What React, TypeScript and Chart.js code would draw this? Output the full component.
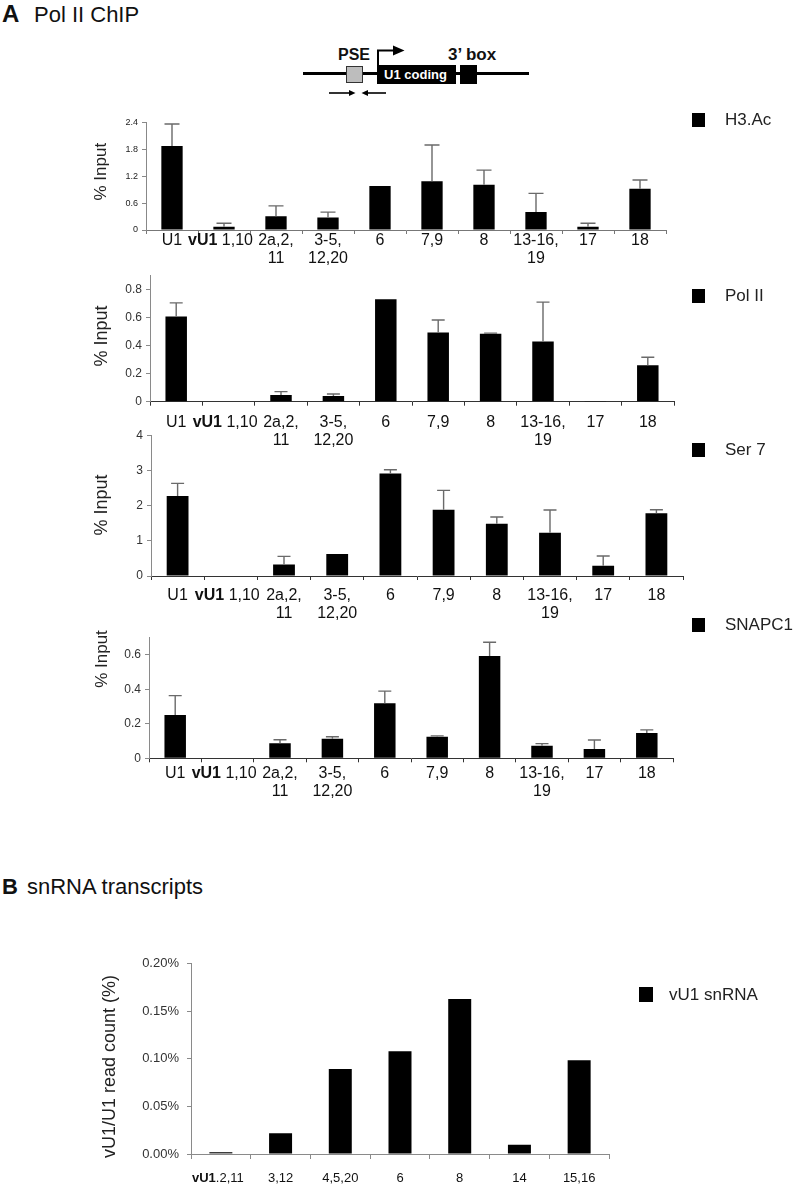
import React, { useEffect, useRef } from 'react';
import { Chart, registerables } from 'chart.js';

Chart.register(...registerables);

const FONT = '"Liberation Sans", Arial, Helvetica, sans-serif';
const PAGE_W = 794;

// ---------- data ----------
const CHIP_CATEGORIES: string[][] = [
  ['U1'], ['vU1 1,10'], ['2a,2,', '11'], ['3-5,', '12,20'], ['6'], ['7,9'], ['8'], ['13-16,', '19'], ['17'], ['18'],
];
const BOLD_PREFIX = 'vU1';

const H3AC_VALUES = [1.88, 0.07, 0.31, 0.28, 0.985, 1.09, 1.01, 0.4, 0.07, 0.92];
const H3AC_ERRORS = [0.49, 0.08, 0.23, 0.12, 0, 0.81, 0.33, 0.42, 0.08, 0.2];

const POL2_VALUES = [0.608, 0, 0.048, 0.041, 0.731, 0.495, 0.486, 0.43, 0.005, 0.26];
const POL2_ERRORS = [0.098, 0, 0.024, 0.014, 0, 0.089, 0.004, 0.281, 0, 0.057];

const SER7_VALUES = [2.28, 0, 0.33, 0.63, 2.92, 1.89, 1.49, 1.23, 0.29, 1.79];
const SER7_ERRORS = [0.36, 0, 0.23, 0, 0.11, 0.55, 0.19, 0.65, 0.28, 0.1];

const SNAPC1_VALUES = [0.252, 0, 0.087, 0.114, 0.32, 0.125, 0.594, 0.073, 0.054, 0.147];
const SNAPC1_ERRORS = [0.112, 0, 0.021, 0.011, 0.07, 0.005, 0.08, 0.012, 0.052, 0.018];

const SNRNA_CATEGORIES = ['vU1.2,11', '3,12', '4,5,20', '6', '8', '14', '15,16'];
const SNRNA_VALUES = [0.002, 0.0217, 0.0893, 0.108, 0.163, 0.0098, 0.0984];

// axis ranges [max, step]
const H3AC_AXIS = [2.4, 0.6];
const POL2_AXIS = [0.9, 0.2];
const SER7_AXIS = [4, 1];
const SNAPC1_AXIS = [0.7, 0.2];
const SNRNA_AXIS = [0.2, 0.05];

type Spec = {
  top: number; height: number;
  areaTop: number; areaBottom: number; areaLeft: number; areaRight: number;
  labels: (string | string[])[];
  values: number[]; errors?: number[]; series: string;
  axis: number[]; yFmt?: (v: number) => string;
  yTickFont: number; yTickPad: number; yTickColor: string;
  xFont: number; xBoldFont: number; boldShift: number; xLineHeight: number; xTickLen: number; xPad: number;
  xBorder: string; yBorder: string;
  barPct: number; barColors: string | string[];
  capWidth: number;
  legend: { x: number; y: number; w: number; h: number; textX: number; font: number };
  title: { text: string; x: number; y: number; font: number };
};

function BarPanel({ s }: { s: Spec }) {
  const ref = useRef<HTMLCanvasElement>(null);
  useEffect(() => {
    const canvas = ref.current;
    if (!canvas) return;
    const extras = {
      id: 'extras',
      afterDatasetsDraw(chart: any) {
        const ctx = chart.ctx;
        const xs = chart.scales.x;
        const ys = chart.scales.y;
        if (s.errors) {
          ctx.save();
          ctx.strokeStyle = '#6a6a6a';
          ctx.lineWidth = 1.4;
          s.values.forEach((v, i) => {
            const e = s.errors![i];
            if (!e) return;
            const x = xs.getPixelForValue(i);
            const y0 = ys.getPixelForValue(v);
            const y1 = ys.getPixelForValue(v + e);
            ctx.beginPath();
            ctx.moveTo(x, y0);
            ctx.lineTo(x, y1);
            ctx.moveTo(x - s.capWidth / 2, y1);
            ctx.lineTo(x + s.capWidth / 2, y1);
            ctx.stroke();
          });
          ctx.restore();
        }
      },
      afterDraw(chart: any) {
        const ctx = chart.ctx;
        const xs = chart.scales.x;
        // bold-prefixed category labels
        (chart.data.labels as (string | string[])[]).forEach((lab, i) => {
          const str = Array.isArray(lab) ? lab[0] : lab;
          if (!str.startsWith(BOLD_PREFIX)) return;
          const rest = str.slice(BOLD_PREFIX.length);
          ctx.save();
          ctx.font = `bold ${s.xBoldFont}px ${FONT}`;
          const wb = ctx.measureText(BOLD_PREFIX).width;
          ctx.font = `${s.xFont}px ${FONT}`;
          const wr = ctx.measureText(rest).width;
          const cx = xs.getPixelForTick(i) + s.boldShift;
          const y = xs.top + s.xTickLen + s.xPad + s.xLineHeight / 2;
          const x0 = cx - (wb + wr) / 2;
          ctx.textAlign = 'left';
          ctx.textBaseline = 'middle';
          ctx.fillStyle = '#111';
          ctx.font = `bold ${s.xBoldFont}px ${FONT}`;
          ctx.fillText(BOLD_PREFIX, x0, y);
          ctx.font = `${s.xFont}px ${FONT}`;
          ctx.fillText(rest, x0 + wb, y);
          ctx.restore();
        });
        // legend
        ctx.save();
        const lg = s.legend;
        ctx.fillStyle = '#000';
        ctx.fillRect(lg.x, lg.y - s.top, lg.w, lg.h);
        ctx.fillStyle = '#222';
        ctx.font = `${lg.font}px ${FONT}`;
        ctx.textAlign = 'left';
        ctx.textBaseline = 'middle';
        ctx.fillText(chart.data.datasets[0].label, lg.textX, lg.y - s.top + lg.h / 2 + 0.5);
        ctx.restore();
        // y-axis title
        ctx.save();
        const t = s.title;
        ctx.translate(t.x, t.y - s.top);
        ctx.rotate(-Math.PI / 2);
        ctx.font = `${t.font}px ${FONT}`;
        ctx.fillStyle = '#222';
        ctx.textAlign = 'center';
        ctx.textBaseline = 'middle';
        ctx.fillText(t.text, 0, 0);
        ctx.restore();
      },
    };
    const labelStrings = s.labels.map((l) => (Array.isArray(l) ? l[0] : l));
    const chart = new Chart(canvas, {
      type: 'bar',
      data: {
        labels: s.labels as any,
        datasets: [
          {
            label: s.series,
            data: s.values,
            backgroundColor: s.barColors as any,
            borderWidth: 0,
            barPercentage: s.barPct,
            categoryPercentage: 1,
          },
        ],
      },
      options: {
        responsive: false,
        animation: false,
        devicePixelRatio: 1,
        layout: { padding: { left: 0, top: s.areaTop - s.top, right: PAGE_W - s.areaRight, bottom: 0 } },
        plugins: { legend: { display: false }, tooltip: { enabled: false }, title: { display: false } },
        scales: {
          x: {
            offset: true,
            grid: { display: true, drawOnChartArea: false, drawTicks: true, tickLength: s.xTickLen, color: s.xBorder, offset: true, lineWidth: 1 },
            border: { display: true, color: s.xBorder, width: 1 },
            ticks: {
              font: { family: FONT, size: s.xFont, lineHeight: `${s.xLineHeight}px` },
              color: (c: any) => (labelStrings[c.index] && labelStrings[c.index].startsWith(BOLD_PREFIX) ? 'rgba(0,0,0,0)' : '#111'),
              padding: s.xPad,
              maxRotation: 0,
              minRotation: 0,
              autoSkip: false,
            },
            afterFit: (sc: any) => {
              sc.height = s.top + s.height - s.areaBottom;
            },
          },
          y: {
            min: 0,
            max: s.axis[0],
            grid: { display: true, drawOnChartArea: false, drawTicks: true, tickLength: 4, color: s.yBorder, lineWidth: 1 },
            border: { display: true, color: s.yBorder, width: 1 },
            ticks: {
              stepSize: s.axis[1],
              includeBounds: false,
              font: { family: FONT, size: s.yTickFont },
              color: s.yTickColor,
              padding: s.yTickPad,
              callback: s.yFmt ? (v: any) => s.yFmt!(Number(v)) : undefined,
            } as any,
            afterFit: (sc: any) => {
              sc.width = s.areaLeft;
            },
          },
        },
      },
      plugins: [extras],
    } as any);
    return () => chart.destroy();
  }, [s]);
  return (
    <canvas
      ref={ref}
      width={PAGE_W}
      height={s.height}
      style={{ position: 'absolute', left: 0, top: s.top, width: PAGE_W, height: s.height }}
    />
  );
}

const chipBase = {
  labels: CHIP_CATEGORIES,
  yTickPad: 4,
  yTickColor: '#333',
  xFont: 16,
  xBoldFont: 16,
  boldShift: -3.5,
  xLineHeight: 18,
  xTickLen: 4,
  barPct: 0.41,
  barColors: '#000',
};

const SPECS: Spec[] = [
  {
    ...chipBase,
    top: 100, height: 175, areaTop: 122.7, areaBottom: 230, areaLeft: 146, areaRight: 666,
    values: H3AC_VALUES, errors: H3AC_ERRORS, series: 'H3.Ac', axis: H3AC_AXIS,
    yTickFont: 9, yTickColor: '#222', xPad: -2, xBorder: '#777', yBorder: '#888', capWidth: 15,
    legend: { x: 692, y: 113, w: 13, h: 14, textX: 725, font: 17 },
    title: { text: '% Input', x: 101.5, y: 171.7, font: 17 },
  },
  {
    ...chipBase,
    top: 258, height: 194, areaTop: 275.7, areaBottom: 401.7, areaLeft: 150, areaRight: 674,
    values: POL2_VALUES, errors: POL2_ERRORS, series: 'Pol II', axis: POL2_AXIS,
    yTickFont: 12, xPad: 7.8, xBorder: '#333', yBorder: '#8a8a8a', capWidth: 13,
    legend: { x: 692, y: 289, w: 13, h: 14, textX: 725, font: 17 },
    title: { text: '% Input', x: 102, y: 336, font: 18 },
  },
  {
    ...chipBase,
    top: 418, height: 212, areaTop: 435.7, areaBottom: 576, areaLeft: 151, areaRight: 683,
    values: SER7_VALUES, errors: SER7_ERRORS, series: 'Ser 7', axis: SER7_AXIS,
    yTickFont: 12, xPad: 7, xBorder: '#333', yBorder: '#8a8a8a', capWidth: 13,
    legend: { x: 692, y: 443, w: 13, h: 14, textX: 725, font: 17 },
    title: { text: '% Input', x: 102.5, y: 505, font: 18 },
  },
  {
    ...chipBase,
    top: 612, height: 193, areaTop: 637.7, areaBottom: 758.3, areaLeft: 149, areaRight: 673,
    values: SNAPC1_VALUES, errors: SNAPC1_ERRORS, series: 'SNAPC1', axis: SNAPC1_AXIS,
    yTickFont: 12, xPad: 2.7, xBorder: '#333', yBorder: '#8a8a8a', capWidth: 13,
    legend: { x: 692, y: 618, w: 13, h: 14, textX: 725, font: 17 },
    title: { text: '% Input', x: 102, y: 659, font: 17 },
  },
  {
    top: 940, height: 253, areaTop: 963.7, areaBottom: 1154, areaLeft: 191, areaRight: 609,
    labels: SNRNA_CATEGORIES,
    values: SNRNA_VALUES, series: 'vU1 snRNA', axis: SNRNA_AXIS,
    yFmt: (v: number) => v.toFixed(2) + '%',
    yTickFont: 13, yTickPad: 8, yTickColor: '#333',
    xFont: 13, xBoldFont: 13, boldShift: -3, xLineHeight: 15, xTickLen: 5, xPad: 11.5,
    xBorder: '#8a8a8a', yBorder: '#8a8a8a',
    barPct: 0.385,
    barColors: SNRNA_VALUES.map((_, i) => (i === 0 ? '#3c3c3c' : '#000')),
    capWidth: 0,
    legend: { x: 639, y: 987, w: 14, h: 15, textX: 669, font: 17 },
    title: { text: 'vU1/U1 read count (%)', x: 110, y: 1066.5, font: 18 },
  },
];

function Decorations() {
  return (
    <svg
      width={PAGE_W}
      height={1193}
      style={{ position: 'absolute', left: 0, top: 0 }}
      fontFamily={FONT}
    >
      <text x={2} y={21.5} fontSize={24} fontWeight="bold" fill="#111">A</text>
      <text x={34} y={21.5} fontSize={22} fill="#111">Pol II ChIP</text>
      {/* gene diagram */}
      <line x1={303} y1={73.5} x2={529} y2={73.5} stroke="#000" strokeWidth={3} />
      <rect x={346.5} y={66.5} width={16} height={16} fill="#bdbdbd" stroke="#333" strokeWidth={1} />
      <rect x={377} y={65} width={79} height={19} fill="#000" />
      <text x={415.5} y={79} fontSize={13} fontWeight="bold" fill="#fff" textAnchor="middle">U1 coding</text>
      <rect x={460} y={65} width={17} height={19} fill="#000" />
      <polyline points="378,65 378,50.5 395,50.5" fill="none" stroke="#000" strokeWidth={2} />
      <polygon points="393,45.5 404.5,50.5 393,55.5" fill="#000" />
      <text x={338} y={59.5} fontSize={16} fontWeight="bold" fill="#111">PSE</text>
      <text x={448} y={59.5} fontSize={17} fontWeight="bold" fill="#111">3’ box</text>
      <line x1={329} y1={93} x2={350} y2={93} stroke="#000" strokeWidth={1.6} />
      <polygon points="349,90 355.5,93 349,96" fill="#000" />
      <line x1={367} y1={93} x2={386} y2={93} stroke="#000" strokeWidth={1.6} />
      <polygon points="368,90 361.5,93 368,96" fill="#000" />
      <text x={2} y={894} fontSize={22} fontWeight="bold" fill="#111">B</text>
      <text x={27} y={894} fontSize={22} fill="#111">snRNA transcripts</text>
    </svg>
  );
}

export default function App() {
  return (
    <div style={{ position: 'absolute', left: 0, top: 0, width: PAGE_W, height: 1193, background: '#fff', overflow: 'hidden' }}>
      <Decorations />
      {SPECS.map((s, i) => (
        <BarPanel key={i} s={s} />
      ))}
    </div>
  );
}
